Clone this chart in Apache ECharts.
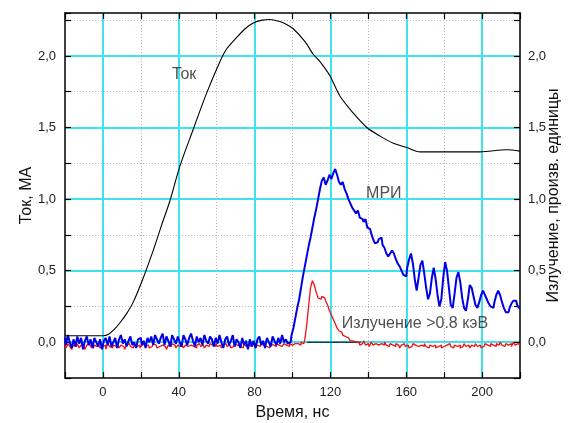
<!DOCTYPE html>
<html>
<head>
<meta charset="utf-8">
<script src="https://cdn.jsdelivr.net/npm/echarts@6/dist/echarts.min.js"></script>
<style>
html,body{margin:0;padding:0;background:#fff;}
#chart{width:574px;height:423px;}
</style>
</head>
<body>
<div id="chart"></div>
<script>
// ---- Data ----
// Sampling of the two radiation traces: start time and step, ns
const sampleStart = -20;
const sampleStep = 1;

// МРИ (blue), one value per ns from -20 to 220
const mriValues = [
  0.03, -0.02, 0.05, 0.0, -0.04, 0.02, -0.03, 0.04, -0.01, 0.03, -0.05, 0.01, 0.04, -0.02, 0.02, -0.04, 0.03, 0.0, -0.03, 0.02,
  -0.05, 0.01, 0.03, -0.02, 0.04, -0.03, 0.0, 0.03, -0.04, 0.02, 0.05, -0.01, 0.02, -0.03, 0.01, 0.04, -0.02, 0.0, -0.04, 0.02,
  0.03, -0.02, 0.01, -0.04, 0.03, 0.0, 0.04, -0.02, 0.05, 0.02, -0.01, 0.03, 0.06, -0.02, 0.04, 0.01, -0.03, 0.05, 0.02, -0.01,
  0.04, 0.0, -0.03, 0.05, 0.02, -0.02, 0.03, 0.06, 0.01, -0.03, 0.04, 0.0, 0.03, -0.02, 0.05, 0.01, -0.01, 0.04, 0.02, -0.03,
  0.03, -0.01, 0.05, 0.0, -0.04, 0.02, 0.04, -0.02, 0.01, 0.05, -0.03, 0.02, 0.0, -0.04, 0.03, -0.02, 0.01, -0.05, 0.02, -0.03,
  0.01, -0.04, 0.02, 0.04, -0.02, 0.01, -0.04, 0.03, 0.0, -0.03, 0.04, 0.01, -0.02, 0.03, -0.01, 0.05, 0.0, 0.02, -0.01,
  0.0, 0.05, 0.1, 0.17, 0.24, 0.3, 0.38, 0.46, 0.53, 0.6,
  0.67, 0.73, 0.8, 0.87, 0.93, 1.0, 1.07, 1.13, 1.15, 1.1,
  1.13, 1.17, 1.14, 1.18, 1.21, 1.17, 1.12, 1.1, 1.12, 1.07,
  1.04, 1.0, 0.97, 0.94, 0.92, 0.9, 0.92, 0.87, 0.86, 0.84,
  0.86, 0.8, 0.79, 0.76, 0.72, 0.69, 0.7, 0.72, 0.73, 0.68,
  0.66, 0.62, 0.6, 0.62, 0.64, 0.62, 0.58, 0.55, 0.53, 0.5,
  0.47, 0.46, 0.52, 0.58, 0.62, 0.55, 0.44, 0.36, 0.45, 0.54,
  0.57, 0.48, 0.38, 0.3, 0.34, 0.45, 0.52, 0.44, 0.33, 0.25,
  0.3, 0.45, 0.56, 0.5, 0.38, 0.26, 0.24, 0.34, 0.45, 0.49,
  0.42, 0.31, 0.24, 0.22, 0.3, 0.4, 0.38, 0.32, 0.26, 0.24,
  0.28, 0.33, 0.36, 0.33, 0.3, 0.27, 0.25, 0.24, 0.28, 0.33,
  0.36, 0.33, 0.28, 0.24, 0.21, 0.21, 0.24, 0.27, 0.29, 0.29,
  0.26, 0.24
];

// Излучение >0.8 кэВ (red), one value per ns from -20 to 220
const xrayValues = [
  -0.02, -0.04, -0.01, -0.03, -0.05, -0.02, -0.03, -0.01, -0.04, -0.02, -0.03, -0.05, -0.02, -0.01, -0.03, -0.04, -0.02, -0.03, -0.01, -0.04,
  -0.03, -0.02, -0.05, -0.01, -0.03, -0.04, -0.02, -0.03, -0.01, -0.04, -0.02, -0.03, -0.05, -0.02, -0.01, -0.03, -0.04, -0.02, -0.03, -0.02,
  -0.04, -0.02, -0.01, -0.03, -0.02, -0.04, -0.03, -0.01, -0.02, -0.04, -0.03, -0.02, -0.01, -0.03, -0.05, -0.02, -0.03, -0.01, -0.02, -0.04,
  -0.02, -0.03, -0.01, -0.04, -0.02, -0.03, -0.02, -0.01, -0.03, -0.04, -0.02, -0.01, -0.03, -0.02, -0.04, -0.02, -0.03, -0.01, -0.02, -0.03,
  -0.01, -0.03, -0.02, -0.04, -0.02, -0.01, -0.03, -0.02, -0.04, -0.03, -0.01, -0.02, -0.03, -0.02, -0.04, -0.01, -0.03, -0.02, -0.03, -0.01,
  -0.02, -0.04, -0.02, -0.03, -0.01, -0.02, -0.03, -0.02, -0.04, -0.01, -0.02, -0.03, -0.01, -0.02, -0.03, -0.02, -0.01, -0.02, -0.03, -0.01,
  -0.02, -0.01, -0.02, -0.01, -0.02, 0.0, -0.01,
  0.02, 0.12, 0.25, 0.38, 0.43, 0.4, 0.35, 0.31, 0.3, 0.32, 0.31, 0.29, 0.26, 0.22, 0.19, 0.16, 0.13, 0.1, 0.08, 0.07, 0.05, 0.04, 0.03, 0.02, 0.01, 0.01, 0.0,
  -0.01, 0.0, -0.02, -0.01, 0.01, -0.02, -0.01, -0.03, 0.0, -0.02, -0.01, -0.02, -0.03, -0.01, -0.02, 0.0, -0.02, -0.03, -0.01, -0.02,
  -0.03, -0.01, -0.02, -0.04, -0.02, -0.01, -0.03, -0.02, -0.04, -0.03, -0.01, -0.02, -0.03, -0.04, -0.02, -0.03, -0.01, -0.03, -0.04, -0.02,
  -0.03, -0.02, -0.04, -0.03, -0.02, -0.04, -0.03, -0.02, -0.03, -0.01, -0.03, -0.04, -0.02, -0.03, -0.02, -0.04, -0.03, -0.01, -0.03, -0.02,
  -0.04, -0.02, -0.03, -0.01, -0.03, -0.02, -0.04, -0.03, -0.01, -0.02, -0.03, -0.01, -0.02, -0.03, -0.01, -0.02, 0.0, -0.02, -0.03, -0.01,
  -0.02, -0.01, -0.03, 0.0, -0.02, -0.01, -0.02
];

// Ток (black): time, ns and current, MA
const currentTime = [-20, -10, 0, 3, 6, 9, 12.5, 16, 21, 26.5, 31, 35.4, 40.6, 47.7, 54.7, 61.7, 65.3, 70.6, 75, 79.3, 84, 88, 93.4, 96.9, 100.4, 106.6, 111, 114.5, 119.8, 125, 132.1, 139.2, 146.2, 153.2, 160.3, 167.3, 181.4, 199, 213, 220];
const currentValues = [0.045, 0.045, 0.045, 0.055, 0.09, 0.136, 0.2, 0.28, 0.44, 0.64, 0.82, 0.99, 1.23, 1.49, 1.74, 1.96, 2.05, 2.13, 2.19, 2.23, 2.25, 2.255, 2.24, 2.22, 2.19, 2.10, 2.01, 1.96, 1.86, 1.72, 1.60, 1.50, 1.44, 1.39, 1.36, 1.33, 1.33, 1.33, 1.345, 1.335];

// Baseline segment under the red pulse
const baselineTime = [107.5, 136];
const baselineValues = [0, 0];

// Text annotations (data coordinates)
const annotTexts = ['Ток', 'МРИ', 'Излучение >0.8 кэВ'];
const annotTime = [36.4, 138.8, 126];
const annotValue = [1.87, 1.04, 0.13];

// Axis settings
const xMin = -20, xMax = 220, xStep = 20, xLabelEvery = 40;
const yMin = -0.25, yMax = 2.3, yStep = 0.25, yLabelEvery = 0.5, yLabelMax = 2.0;

// ---- Build ----
const mriData = mriValues.map((v, i) => [sampleStart + i * sampleStep, v]);
const xrayData = xrayValues.map((v, i) => [sampleStart + i * sampleStep, v]);
const currentData = currentValues.map((v, i) => [currentTime[i], v]);
const baselineData = baselineValues.map((v, i) => [baselineTime[i], v]);
const annotData = annotTexts.map((t, i) => ({ value: [annotTime[i], annotValue[i]], name: t }));

const CYAN = '#3fe3ec';
const PURPLE = '#cfa3dc';
const NONE = 'rgba(0,0,0,0)';
const FONT = 'Liberation Sans';

function xLabel(v) {
  return (Math.abs(v % xLabelEvery) < 1e-6) ? String(v) : '';
}
function yLabel(v) {
  const k = v / yLabelEvery;
  if (v < -1e-6 || v > yLabelMax + 1e-6) return '';
  if (Math.abs(k - Math.round(k)) > 1e-6) return '';
  return v.toFixed(1).replace('.', ',');
}

const axisLineStyle = { show: true, onZero: false, lineStyle: { color: '#000', width: 1.5 } };
const tickStyle = { show: true, inside: true, length: 6, lineStyle: { color: '#000', width: 1.2 } };
const labelStyle = { color: '#222', fontSize: 13, fontFamily: FONT };
const nameStyle = { color: '#111', fontSize: 16, fontFamily: FONT };

const chart = echarts.init(document.getElementById('chart'));
chart.setOption({
  animation: false,
  backgroundColor: '#fff',
  grid: { left: 65, right: 54, top: 13, bottom: 45, containLabel: false, outerBoundsMode: 'none' },
  xAxis: [
    {
      type: 'value', min: xMin, max: xMax, interval: xStep, position: 'bottom',
      name: 'Время, нс', nameLocation: 'middle', nameGap: 27, nameMoveOverlap: false, nameTextStyle: nameStyle,
      axisLine: axisLineStyle, axisTick: tickStyle,
      axisLabel: Object.assign({ formatter: xLabel, margin: 8, showMinLabel: true, showMaxLabel: true }, labelStyle),
      splitLine: { show: true, showMinLine: false, showMaxLine: false, lineStyle: { color: [CYAN, NONE], width: 2, type: 'solid' } }
    },
    {
      type: 'value', min: xMin, max: xMax, interval: xStep, position: 'top',
      axisLine: axisLineStyle, axisTick: tickStyle, axisLabel: { show: false },
      splitLine: { show: true, showMinLine: false, showMaxLine: false, lineStyle: { color: [NONE, PURPLE], width: 1, type: [1, 2] } }
    }
  ],
  yAxis: [
    {
      type: 'value', min: yMin, max: yMax, interval: yStep, position: 'left',
      name: 'Ток, МА', nameLocation: 'middle', nameGap: 30, nameMoveOverlap: false, nameTextStyle: nameStyle,
      axisLine: axisLineStyle, axisTick: tickStyle,
      axisLabel: Object.assign({ formatter: yLabel, margin: 9 }, labelStyle),
      splitLine: { show: true, showMinLine: false, showMaxLine: false, lineStyle: { color: [CYAN, NONE], width: 2, type: 'solid' } }
    },
    {
      type: 'value', min: yMin, max: yMax, interval: yStep, position: 'right',
      name: 'Излучение, произв. единицы', nameLocation: 'middle', nameGap: 26, nameMoveOverlap: false, nameTextStyle: nameStyle,
      axisLine: axisLineStyle, axisTick: tickStyle,
      axisLabel: Object.assign({ formatter: yLabel, margin: 8 }, labelStyle),
      splitLine: { show: true, showMinLine: false, showMaxLine: false, lineStyle: { color: [NONE, PURPLE], width: 1, type: [1, 2] } }
    }
  ],
  series: [
    {
      name: 'baseline', type: 'line', xAxisIndex: 0, yAxisIndex: 1, data: baselineData,
      showSymbol: false, symbol: 'none', lineStyle: { color: '#000', width: 1 }, z: 3
    },
    {
      name: 'Излучение >0.8 кэВ', type: 'line', xAxisIndex: 0, yAxisIndex: 1, data: xrayData,
      showSymbol: false, symbol: 'none', step: 'middle', lineStyle: { color: '#f01010', width: 1.3 }, z: 4
    },
    {
      name: 'МРИ', type: 'line', xAxisIndex: 0, yAxisIndex: 1, data: mriData,
      showSymbol: false, symbol: 'none', step: 'middle', lineStyle: { color: '#0000e6', width: 2 }, z: 5
    },
    {
      name: 'Ток', type: 'line', xAxisIndex: 0, yAxisIndex: 0, data: currentData,
      showSymbol: false, symbol: 'none', smooth: 0.3, lineStyle: { color: '#000', width: 1.1 }, z: 6
    },
    {
      name: 'labels', type: 'scatter', xAxisIndex: 0, yAxisIndex: 0, data: annotData,
      symbolSize: 0, silent: true, z: 7,
      label: {
        show: true, position: 'right', distance: 0, formatter: p => p.name,
        color: '#222', fontSize: 16, fontFamily: FONT
      }
    }
  ]
});
</script>
</body>
</html>
